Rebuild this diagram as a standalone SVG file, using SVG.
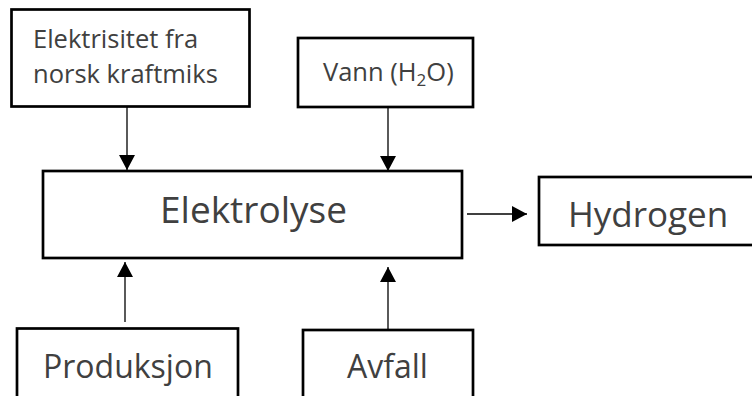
<svg xmlns="http://www.w3.org/2000/svg" width="752" height="396" viewBox="0 0 752 396">
<style>
.box{fill:#fff;stroke:#000;stroke-width:2.7}
.lbl{font-family:"Open Sans","Noto Sans",sans-serif;fill:#404040}
.conn{stroke:#000;stroke-width:1.3;fill:none;marker-end:url(#ah)}
</style>
<defs>
<marker id="ah" markerUnits="userSpaceOnUse" markerWidth="15" markerHeight="16" refX="15" refY="8" orient="auto">
<path d="M0,0 L15,8 L0,16 z" fill="#000"/>
</marker>
</defs>
<rect width="752" height="396" fill="#fff"/>
<g id="connectors">
<line class="conn" x1="127" y1="107" x2="127" y2="170"/>
<line class="conn" x1="388" y1="107" x2="388" y2="171"/>
<line class="conn" x1="467" y1="214" x2="527" y2="214"/>
<line class="conn" x1="125" y1="322" x2="125" y2="262"/>
<line class="conn" x1="388" y1="329" x2="388" y2="267"/>
</g>
<g id="elektrisitet">
<rect class="box" x="11.5" y="9.5" width="238" height="97"/>
<text class="lbl" font-size="25.5" x="33" y="48">Elektrisitet fra</text>
<text class="lbl" font-size="25.5" x="33" y="83">norsk kraftmiks</text>
</g>
<g id="vann">
<rect class="box" x="298" y="38" width="175" height="69"/>
<text class="lbl" font-size="25.5" x="323" y="81">Vann (H<tspan font-size="17" dy="5">2</tspan><tspan dy="-5">O)</tspan></text>
</g>
<g id="elektrolyse">
<rect class="box" x="43" y="171" width="419" height="87"/>
<text class="lbl" font-size="37" x="160" y="223">Elektrolyse</text>
</g>
<g id="hydrogen">
<rect class="box" x="539" y="177" width="230" height="68"/>
<text class="lbl" font-size="35" x="568" y="227">Hydrogen</text>
</g>
<g id="produksjon">
<rect class="box" x="17" y="328.5" width="221" height="80"/>
<text class="lbl" font-size="32" x="43" y="378">Produksjon</text>
</g>
<g id="avfall">
<rect class="box" x="303" y="330" width="170" height="80"/>
<text class="lbl" font-size="32" x="347" y="378">Avfall</text>
</g>
</svg>
